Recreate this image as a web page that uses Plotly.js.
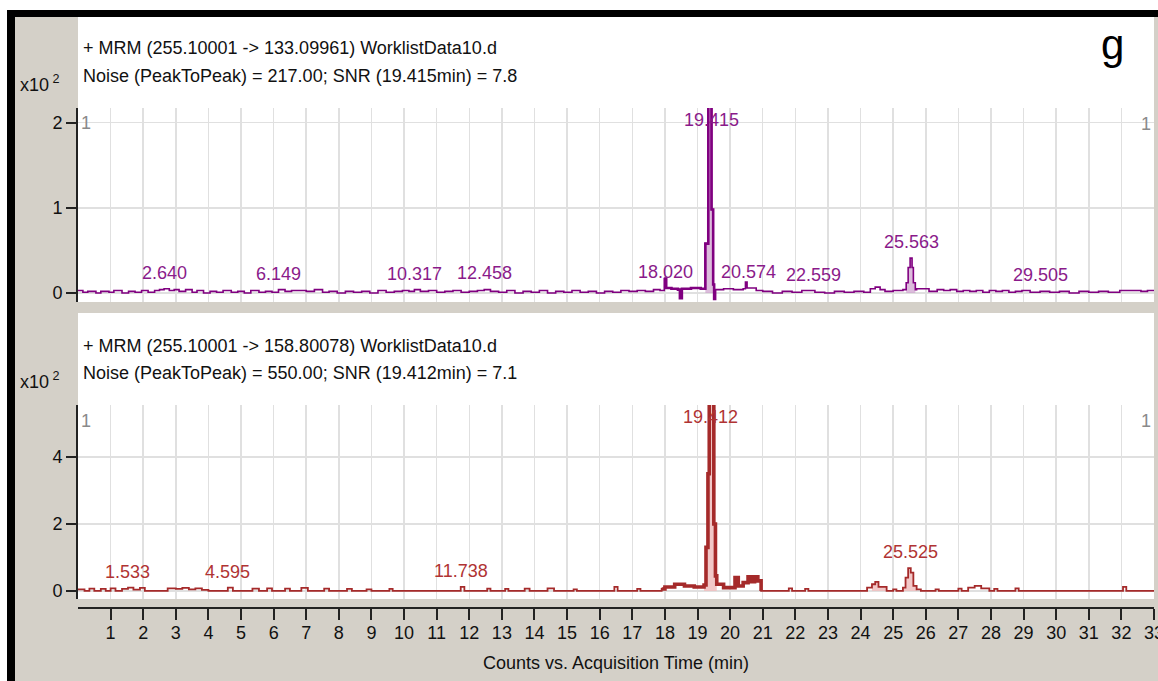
<!DOCTYPE html>
<html>
<head>
<meta charset="utf-8">
<script src="https://cdn.plot.ly/plotly-3.0.1.min.js"></script>
<style>
html,body{margin:0;padding:0;background:#ffffff;}
#chart{width:1158px;height:681px;}
</style>
</head>
<body>
<div id="chart"></div>
<script>
// ---------------- DATA (intensity in units of x10^2 counts, time in min) ----------------
const xTickLabels = ['1','2','3','4','5','6','7','8','9','10','11','12','13','14','15','16','17','18','19','20','21','22','23','24','25','26','27','28','29','30','31','32','33'];
const yTicksTop = [0, 1, 2];
const yTicksBottom = [0, 2, 4];

// MRM 255.10001 -> 133.09961
const topTime = [
 0.00,0.15,0.30,0.55,0.70,0.95,1.10,1.35,1.55,1.75,
 1.95,2.15,2.35,2.50,2.64,2.80,2.95,3.10,3.30,3.50,
 3.65,3.85,4.05,4.25,4.45,4.70,4.90,5.10,5.30,5.55,
 5.75,5.95,6.149,6.35,6.55,6.80,7.00,7.25,7.50,7.70,
 7.95,8.20,8.45,8.70,8.95,9.20,9.45,9.70,9.95,10.15,
 10.317,10.50,10.75,11.00,11.25,11.50,11.75,12.00,12.25,12.458,
 12.65,12.90,13.15,13.40,13.65,13.90,14.15,14.40,14.65,14.90,
 15.15,15.40,15.65,15.90,16.15,16.40,16.65,16.90,17.15,17.40,
 17.65,17.85,17.98,18.04,18.20,18.40,18.46,18.52,18.80,19.10,
 19.24,19.33,19.43,19.48,19.51,19.54,19.80,20.10,20.40,20.47,
 20.52,20.80,21.00,21.30,21.60,21.90,22.20,22.60,22.90,23.20,
 23.50,23.80,24.10,24.30,24.45,24.60,24.75,25.00,25.30,25.40,
 25.46,25.52,25.58,25.62,25.68,25.72,26.10,26.35,26.55,26.75,
 26.95,27.15,27.35,27.55,27.75,27.95,28.15,28.35,28.55,28.75,
 28.95,29.20,29.505,29.80,30.10,30.40,30.70,31.00,31.30,31.60,
 31.95,32.60,32.80,33.00
];
const topSignal = [
 0.03,0.01,0.02,0.00,0.02,0.01,0.03,0.00,0.02,0.01,
 0.03,0.01,0.03,0.04,0.05,0.03,0.04,0.02,0.04,0.01,
 0.03,0.00,0.02,0.01,0.03,0.01,0.02,0.00,0.03,0.01,
 0.02,0.01,0.04,0.02,0.03,0.03,0.02,0.04,0.01,0.02,
 0.00,0.02,0.01,0.02,0.00,0.03,0.01,0.02,0.03,0.02,
 0.04,0.02,0.03,0.01,0.02,0.03,0.01,0.02,0.03,0.04,
 0.02,0.01,0.03,0.00,0.02,0.01,0.03,0.00,0.02,0.01,
 0.03,0.01,0.02,0.00,0.02,0.01,0.03,0.02,0.03,0.02,
 0.04,0.03,0.17,0.06,0.05,0.04,-0.06,0.05,0.06,0.05,
 0.58,2.20,0.98,0.10,-0.07,0.04,0.05,0.04,0.05,0.13,
 0.06,0.03,0.02,0.00,0.02,0.01,0.03,0.01,0.00,0.02,
 0.01,0.02,0.01,0.05,0.07,0.04,0.02,0.03,0.04,0.12,
 0.30,0.41,0.30,0.12,0.04,0.05,0.02,0.04,0.03,0.04,
 0.02,0.03,0.02,0.03,0.01,0.03,0.02,0.03,0.01,0.02,
 0.03,0.01,0.02,0.01,0.02,0.00,0.02,0.01,0.02,0.01,
 0.03,0.02,0.03,0.02
];
const topPeakTimes = [2.640, 6.149, 10.317, 12.458, 18.020, 19.415, 20.574, 22.559, 25.563, 29.505];
const topPeakApex  = [0.05, 0.04, 0.04, 0.05, 0.06, 2.20, 0.06, 0.02, 0.41, 0.02];
const topIntegration = [[19.20, 19.55], [25.38, 25.70]];
const topDenseRegion = [17.95, 19.56];

// MRM 255.10001 -> 158.80078
const bottomTime = [
 0.00,0.20,0.35,0.50,0.70,0.85,1.00,1.15,1.35,1.533,
 1.70,1.90,2.05,2.60,2.75,3.00,3.20,3.40,3.60,3.80,
 4.00,4.40,4.595,4.75,5.20,5.35,5.55,5.80,5.95,6.35,
 6.50,6.85,7.05,7.55,7.70,8.25,8.40,8.85,9.00,9.55,
 9.65,11.60,11.738,11.85,12.55,12.65,13.10,13.20,13.70,13.85,
 14.40,14.60,15.20,15.30,16.45,16.55,17.15,17.25,17.90,18.00,
 18.30,18.60,18.90,19.20,19.26,19.32,19.36,19.50,19.55,19.59,
 19.80,20.15,20.25,20.40,20.55,20.65,20.75,20.85,20.95,21.80,
 21.90,22.30,22.40,24.20,24.35,24.45,24.55,24.80,25.00,25.10,
 25.30,25.38,25.46,25.54,25.62,25.72,25.85,26.30,26.40,27.00,
 27.10,27.30,27.50,27.70,27.95,28.10,28.20,28.75,28.85,32.05,
 32.15,33.00
];
const bottomSignal = [
 0.05,0.00,0.07,0.00,0.06,0.00,0.08,0.00,0.06,0.10,
 0.04,0.09,0.00,0.00,0.08,0.06,0.09,0.05,0.08,0.03,
 0.00,0.00,0.10,0.00,0.00,0.07,0.00,0.08,0.00,0.07,
 0.00,0.09,0.00,0.07,0.00,0.06,0.00,0.05,0.00,0.06,
 0.00,0.00,0.12,0.00,0.07,0.00,0.06,0.00,0.07,0.00,
 0.08,0.00,0.05,0.00,0.12,0.00,0.06,0.00,0.06,0.12,
 0.20,0.15,0.12,0.18,1.30,3.50,5.60,2.00,0.45,0.20,
 0.10,0.40,0.15,0.25,0.42,0.28,0.42,0.30,0.00,0.08,
 0.00,0.06,0.00,0.10,0.20,0.27,0.12,0.00,0.05,0.00,
 0.10,0.40,0.68,0.55,0.15,0.05,0.00,0.05,0.00,0.07,
 0.00,0.10,0.15,0.08,0.00,0.06,0.00,0.08,0.00,0.12,
 0.00,0.00
];
const bottomPeakTimes = [1.533, 4.595, 11.738, 19.412, 25.525];
const bottomPeakApex  = [0.10, 0.10, 0.12, 5.60, 0.68];
const bottomIntegration = [[19.20, 19.60], [24.35, 24.80], [25.30, 25.80]];
const bottomDenseRegion = [17.90, 21.00];

const headerTop = ['+ MRM (255.10001 -> 133.09961) WorklistData10.d', 'Noise (PeakToPeak) = 217.00; SNR (19.415min) = 7.8'];
const headerBottom = ['+ MRM (255.10001 -> 158.80078) WorklistData10.d', 'Noise (PeakToPeak) = 550.00; SNR (19.412min) = 7.1'];
const xTitle = 'Counts vs. Acquisition Time (min)';
const panelLetter = 'g';

// ---------------- LAYOUT HELPERS ----------------
const W = 1158, H = 681, ML = 78, MR = 4, MT = 17, MB = 73;
const PW = W - ML - MR, PH = H - MT - MB;
const px = x => (x - ML) / PW;
const py = y => (H - MB - y) / PH;
const FONT = "'Liberation Sans Narrow', 'Arial Narrow', 'Liberation Sans', Arial, sans-serif";
const FS = 18;
const GRAY = '#d4d0c8';
const PURPLE = '#800080', RED = '#a52a2a';
const topRange = [-0.105, 2.17], bottomRange = [-0.24, 5.55];
const xTickVals = xTickLabels.map(Number);

function subset(t, v, lo, hi) {
  const xs = [], ys = [];
  t.forEach((tt, i) => { if (tt >= lo && tt <= hi) { xs.push(tt); ys.push(v[i]); } });
  return {x: xs, y: ys};
}

const traces = [];
topIntegration.forEach(w => {
  const s = subset(topTime, topSignal, w[0], w[1]);
  traces.push({x: s.x, y: s.y, xaxis: 'x', yaxis: 'y', type: 'scatter', mode: 'lines',
    line: {width: 0, shape: 'hv'}, fill: 'tozeroy', fillcolor: 'rgba(205,160,205,0.7)', hoverinfo: 'skip'});
});
bottomIntegration.forEach(w => {
  const s = subset(bottomTime, bottomSignal, w[0], w[1]);
  traces.push({x: s.x, y: s.y, xaxis: 'x2', yaxis: 'y2', type: 'scatter', mode: 'lines',
    line: {width: 0, shape: 'hv'}, fill: 'tozeroy', fillcolor: 'rgba(240,190,190,0.85)', hoverinfo: 'skip'});
});
traces.push({x: topTime, y: topSignal, xaxis: 'x', yaxis: 'y', type: 'scatter', mode: 'lines',
  line: {color: PURPLE, width: 1.6, shape: 'hv'}, hoverinfo: 'skip'});
const td = subset(topTime, topSignal, topDenseRegion[0], topDenseRegion[1]);
traces.push({x: td.x, y: td.y, xaxis: 'x', yaxis: 'y', type: 'scatter', mode: 'lines',
  line: {color: PURPLE, width: 2.6, shape: 'hv'}, hoverinfo: 'skip'});
traces.push({x: bottomTime, y: bottomSignal, xaxis: 'x2', yaxis: 'y2', type: 'scatter', mode: 'lines',
  line: {color: RED, width: 1.8, shape: 'hv'}, hoverinfo: 'skip'});
const bd = subset(bottomTime, bottomSignal, bottomDenseRegion[0], bottomDenseRegion[1]);
traces.push({x: bd.x, y: bd.y, xaxis: 'x2', yaxis: 'y2', type: 'scatter', mode: 'lines',
  line: {color: RED, width: 3.6, shape: 'hv'}, hoverinfo: 'skip'});

// ---------------- ANNOTATIONS ----------------
const ann = [];
function txt(x, y, text, opts) {
  ann.push(Object.assign({xref: 'paper', yref: 'paper', x: px(x), y: py(y), text: text, showarrow: false,
    xanchor: 'left', yanchor: 'middle', font: {family: FONT, size: FS, color: '#111'}}, opts || {}));
}
txt(81, 48, headerTop[0]);
txt(81, 76, headerTop[1]);
txt(81, 346, headerBottom[0]);
txt(81, 373, headerBottom[1]);
txt(40, 83, 'x10<sup> 2</sup>', {xanchor: 'center'});
txt(40, 380, 'x10<sup> 2</sup>', {xanchor: 'center'});
txt(1112, 44, panelLetter, {xanchor: 'center', font: {family: "'Liberation Sans', Arial, sans-serif", size: 42, color: '#000'}});
txt(86, 123, '1', {xanchor: 'center', font: {family: FONT, size: FS, color: '#8a8a8a'}});
txt(1146, 124, '1', {xanchor: 'center', font: {family: FONT, size: FS, color: '#8a8a8a'}});
txt(86, 421, '1', {xanchor: 'center', font: {family: FONT, size: FS, color: '#8a8a8a'}});
txt(1146, 421, '1', {xanchor: 'center', font: {family: FONT, size: FS, color: '#8a8a8a'}});

function peakLabels(times, apex, xr, yr, range, color) {
  times.forEach((t, i) => {
    const clipped = apex[i] >= range[1] - 0.02;
    ann.push({xref: xr, yref: yr, x: t, y: clipped ? range[1] : apex[i], text: t.toFixed(3), showarrow: false,
      xanchor: 'center', yanchor: clipped ? 'top' : 'bottom', yshift: clipped ? 0 : 4,
      font: {family: FONT, size: FS, color: color}});
  });
}
peakLabels(topPeakTimes, topPeakApex, 'x', 'y', topRange, '#8a1a8a');
peakLabels(bottomPeakTimes, bottomPeakApex, 'x2', 'y2', bottomRange, '#b03333');

// ---------------- SHAPES ----------------
function rect(x0, y0, x1, y1, color) {
  return {type: 'rect', xref: 'paper', yref: 'paper', x0: px(x0), x1: px(x1), y0: py(y1), y1: py(y0),
    fillcolor: color, line: {width: 0}, layer: 'below'};
}
const shapes = [
  rect(0, 0, W, 10, '#ffffff'),
  rect(0, 0, 7, H, '#ffffff'),
  rect(7, 10, W, 17, '#000000'),
  rect(7, 10, 15, H, '#000000'),
  rect(78, 17, 1154, 302, '#ffffff'),
  rect(78, 313, 1154, 599, '#ffffff')
];

const gridC = '#e0e0e0';
const tickFont = {family: FONT, size: FS, color: '#111'};
const layout = {
  width: W, height: H,
  margin: {l: ML, r: MR, t: MT, b: MB, pad: 0},
  paper_bgcolor: GRAY, plot_bgcolor: 'rgba(0,0,0,0)',
  showlegend: false,
  font: {family: FONT, size: FS, color: '#111'},
  xaxis: {domain: [0, 1], range: [0, 33], anchor: 'y', tickmode: 'array', tickvals: xTickVals,
    showticklabels: false, ticks: '', showgrid: true, gridcolor: gridC, gridwidth: 1.5, zeroline: false, showline: false, fixedrange: true},
  xaxis2: {domain: [0, 1], range: [0, 33], anchor: 'free', position: 0, tickmode: 'array', tickvals: xTickVals, ticktext: xTickLabels,
    ticks: 'outside', ticklen: 11, tickwidth: 2, tickcolor: '#222', showline: true, linecolor: '#222', linewidth: 2,
    showgrid: true, gridcolor: gridC, gridwidth: 1.5, zeroline: false, tickfont: tickFont, ticklabeloverflow: 'allow',
    ticklabelstandoff: -3,
    title: {text: xTitle, font: {family: FONT, size: FS, color: '#111'}, standoff: 14}, fixedrange: true},
  yaxis: {domain: [py(302), py(108)], range: topRange, anchor: 'x', tickmode: 'array', tickvals: yTicksTop,
    ticktext: yTicksTop.map(String), ticks: 'outside', ticklen: 10, tickwidth: 2, tickcolor: '#222',
    showline: true, linecolor: '#222', linewidth: 2, showgrid: true, gridcolor: gridC, gridwidth: 1.5, zeroline: false,
    tickfont: tickFont, fixedrange: true},
  yaxis2: {domain: [py(599), py(405)], range: bottomRange, anchor: 'x2', tickmode: 'array', tickvals: yTicksBottom,
    ticktext: yTicksBottom.map(String), ticks: 'outside', ticklen: 10, tickwidth: 2, tickcolor: '#222',
    showline: true, linecolor: '#222', linewidth: 2, showgrid: true, gridcolor: gridC, gridwidth: 1.5, zeroline: false,
    tickfont: tickFont, fixedrange: true},
  annotations: ann,
  shapes: shapes
};

Plotly.newPlot('chart', traces, layout, {displayModeBar: false, staticPlot: true});
</script>
</body>
</html>
